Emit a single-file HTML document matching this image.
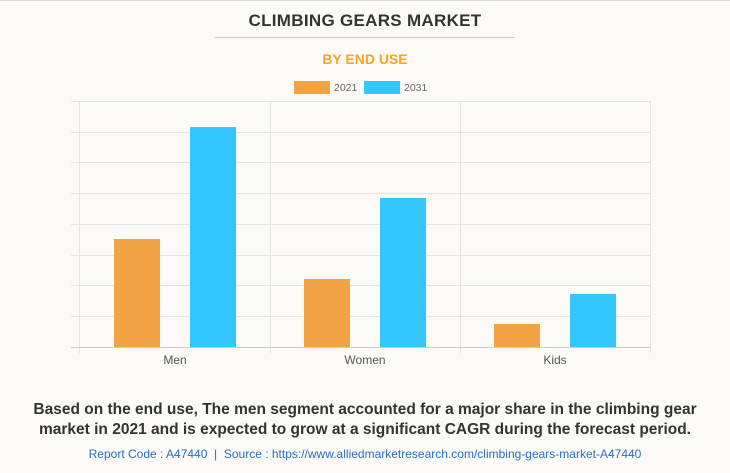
<!DOCTYPE html><html><head><style>
body{margin:0;width:730px;height:473px;background:#fbfaf6;font-family:"Liberation Sans",Arial,sans-serif;position:relative;overflow:hidden}
.t{position:absolute;left:0;width:730px;text-align:center}
</style></head><body>
<div style="position:absolute;left:0;top:0;width:730px;height:1px;background:#ddd"></div>
<div class="t" style="top:11px;font-size:17px;font-weight:bold;color:#333;letter-spacing:0.3px">CLIMBING GEARS MARKET</div>
<div style="position:absolute;left:215px;top:37px;width:300px;height:1px;background:#ccc"></div>
<div class="t" style="top:51px;font-size:14px;font-weight:bold;color:#f5a623">BY END USE</div>
<svg width="730" height="473" style="position:absolute;left:0;top:0" font-family="Liberation Sans, Arial, sans-serif">
<rect x="294" y="81" width="36" height="13" fill="#f2a444"/>
<text x="334" y="91" font-size="10.5" fill="#666">2021</text>
<rect x="364" y="81" width="36" height="13" fill="#33c6ff"/>
<text x="404" y="91" font-size="10.5" fill="#666">2031</text>
<g stroke="#e4e4e0" stroke-width="1">
<line x1="71" x2="650" y1="101.5" y2="101.5"/><line x1="71" x2="650" y1="132.5" y2="132.5"/>
<line x1="71" x2="650" y1="162.5" y2="162.5"/><line x1="71" x2="650" y1="193.5" y2="193.5"/>
<line x1="71" x2="650" y1="224.5" y2="224.5"/><line x1="71" x2="650" y1="255.5" y2="255.5"/>
<line x1="71" x2="650" y1="285.5" y2="285.5"/><line x1="71" x2="650" y1="316.5" y2="316.5"/>
<line x1="79.5" x2="79.5" y1="101" y2="353"/><line x1="270.5" x2="270.5" y1="101" y2="353"/>
<line x1="460.5" x2="460.5" y1="101" y2="353"/><line x1="650.5" x2="650.5" y1="101" y2="353"/>
</g>
<rect x="114" y="239" width="46" height="108" fill="#f2a444"/>
<rect x="190" y="127" width="46" height="220" fill="#33c6ff"/>
<rect x="304" y="279" width="46" height="68" fill="#f2a444"/>
<rect x="380" y="198" width="46" height="149" fill="#33c6ff"/>
<rect x="494" y="324" width="46" height="23" fill="#f2a444"/>
<rect x="570" y="294" width="46" height="53" fill="#33c6ff"/>
<line x1="71" x2="650" y1="347.5" y2="347.5" stroke="#ccc"/>
<g font-size="12" fill="#555" text-anchor="middle">
<text x="175" y="364">Men</text><text x="365" y="364">Women</text><text x="555" y="364">Kids</text>
</g>
</svg>
<div class="t" style="top:400px;font-size:15.5px;font-weight:bold;color:#333;line-height:20px">Based on the end use, The men segment accounted for a major share in the climbing gear<br>market in 2021 and is expected to grow at a significant CAGR during the forecast period.</div>
<div class="t" style="top:447px;font-size:12px;color:#2a6ebb">Report Code : A47440 &nbsp;|&nbsp; Source : https://www.alliedmarketresearch.com/climbing-gears-market-A47440</div>
</body></html>
